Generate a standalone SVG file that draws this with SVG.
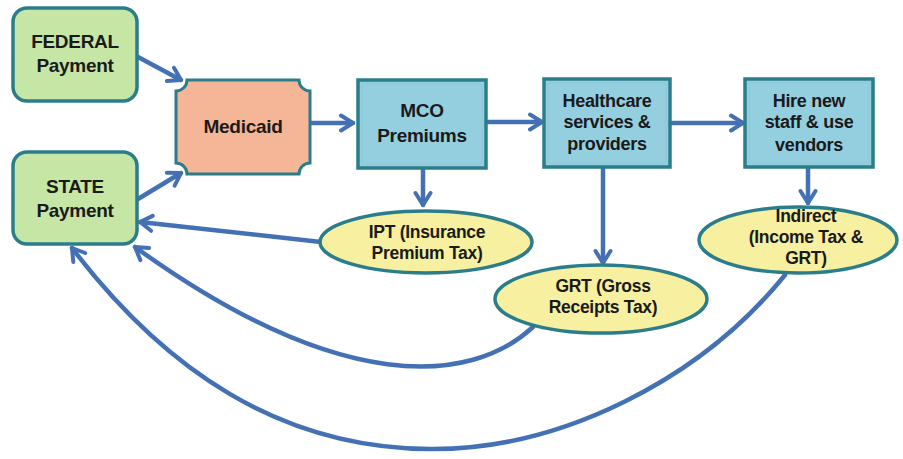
<svg xmlns="http://www.w3.org/2000/svg" width="903" height="459" viewBox="0 0 903 459">
<style>
.txt{font-family:"Liberation Sans",Arial,sans-serif;font-weight:700;font-size:19px;fill:#1a1a1a;text-anchor:middle;letter-spacing:-0.3px}
.sm{font-size:18px}
.el{font-size:17.5px}
.green{fill:#c6e6a6;stroke:#2b7d8c;stroke-width:3.5}
.blue{fill:#94cfe0;stroke:#2b7d8c;stroke-width:3.5}
.salmon{fill:#f5b698;stroke:#2b7d8c;stroke-width:3}
.yellow{fill:#f6f0a0;stroke:#2b7d8c;stroke-width:3.5}
.inner{fill:none;stroke:#8fc7cf;stroke-width:1}
.conn{fill:none;stroke:#4470b4;stroke-width:4.5;stroke-linecap:round}
</style>
<defs>
<marker id="ah" viewBox="0 0 20 20" refX="16" refY="10" markerWidth="20" markerHeight="20" markerUnits="userSpaceOnUse" orient="auto">
<path d="M4,2.5 L16,10 L4,17.5" fill="none" stroke="#4470b4" stroke-width="4" stroke-linecap="round" stroke-linejoin="round"/>
</marker>
</defs>
<g id="connectors">
<path class="conn" d="M138,57 L181,80" marker-end="url(#ah)"/>
<path class="conn" d="M138,199 L181,173" marker-end="url(#ah)"/>
<path class="conn" d="M310,123 L353,123" marker-end="url(#ah)"/>
<path class="conn" d="M486,122 L542,122" marker-end="url(#ah)"/>
<path class="conn" d="M670,123 L743,123" marker-end="url(#ah)"/>
<path class="conn" d="M423,168 L423,205" marker-end="url(#ah)"/>
<path class="conn" d="M603,167 L603,263" marker-end="url(#ah)"/>
<path class="conn" d="M808,167 L808,203" marker-end="url(#ah)"/>
<path class="conn" d="M321,242 L140,222" marker-end="url(#ah)"/>
<path class="conn" d="M533,327 C470,385 340,395 135,247" marker-end="url(#ah)"/>
<path class="conn" d="M785,275 C700,380 560,450 430,449 C280,448 165,370 72,248" marker-end="url(#ah)"/>
</g>
<g id="federal">
<rect class="green" x="13" y="8" width="124" height="93" rx="14"/>
<text class="txt" x="75" y="48">FEDERAL</text>
<text class="txt" x="75" y="72">Payment</text>
</g>
<g id="state">
<rect class="green" x="13" y="152" width="124" height="92" rx="14"/>
<text class="txt" x="75" y="193">STATE</text>
<text class="txt" x="75" y="217">Payment</text>
</g>
<g id="medicaid">
<path class="salmon" d="M187,80 L299,80 A11,11 0 0 0 310,91 L310,163 A11,11 0 0 0 299,174 L187,174 A11,11 0 0 0 176,163 L176,91 A11,11 0 0 0 187,80 Z"/>
<text class="txt" x="243" y="133">Medicaid</text>
</g>
<g id="mco">
<rect class="blue" x="358" y="80" width="128" height="88"/>
<rect class="inner" x="362" y="84" width="120" height="80"/>
<text class="txt" x="422" y="117">MCO</text>
<text class="txt" x="422" y="142">Premiums</text>
</g>
<g id="healthcare">
<rect class="blue" x="544" y="79" width="126" height="88"/>
<rect class="inner" x="548" y="83" width="118" height="80"/>
<text class="txt sm" x="607" y="107">Healthcare</text>
<text class="txt sm" x="607" y="128">services &amp;</text>
<text class="txt sm" x="607" y="150">providers</text>
</g>
<g id="hire">
<rect class="blue" x="745" y="79" width="128" height="88"/>
<rect class="inner" x="749" y="83" width="120" height="80"/>
<text class="txt sm" x="809" y="107">Hire new</text>
<text class="txt sm" x="809" y="128">staff &amp; use</text>
<text class="txt sm" x="809" y="151">vendors</text>
</g>
<g id="ipt">
<ellipse class="yellow" cx="426" cy="242" rx="106" ry="31"/>
<text class="txt el" x="427" y="238">IPT (Insurance</text>
<text class="txt el" x="427" y="259">Premium Tax)</text>
</g>
<g id="grt">
<ellipse class="yellow" cx="601" cy="299" rx="106" ry="34"/>
<text class="txt el" x="603" y="292">GRT (Gross</text>
<text class="txt el" x="603" y="313">Receipts Tax)</text>
</g>
<g id="indirect">
<ellipse class="yellow" cx="798" cy="240" rx="99" ry="33"/>
<text class="txt el" x="806" y="222">Indirect</text>
<text class="txt el" x="806" y="243">(Income Tax &amp;</text>
<text class="txt el" x="806" y="264">GRT)</text>
</g>
</svg>
